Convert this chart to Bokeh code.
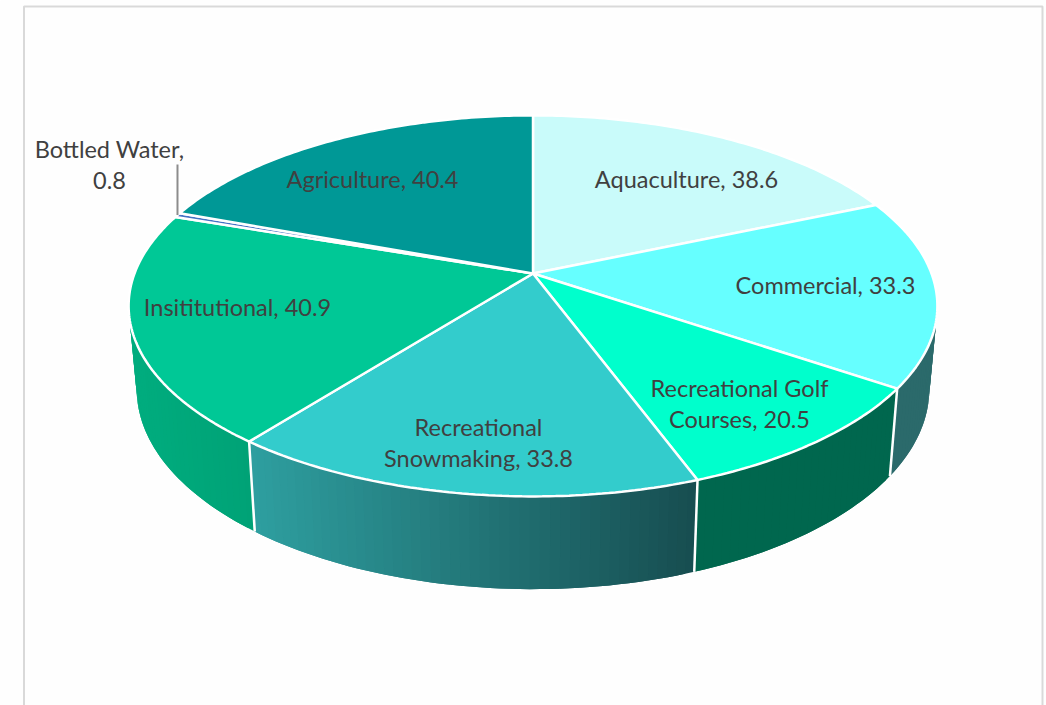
import math
from bokeh.plotting import figure
from bokeh.models import Range1d, ColumnDataSource
from bokeh.core.properties import value
from bokeh.embed import file_html
from bokeh.resources import INLINE

# --- data ---
categories = ["Aquaculture", "Commercial", "Recreational Golf Courses", "Recreational Snowmaking",
              "Insititutional", "Bottled Water", "Agriculture"]
values = [38.6, 33.3, 20.5, 33.8, 40.9, 0.8, 40.4]
labels = ["Aquaculture, 38.6", "Commercial, 33.3", "Recreational Golf\nCourses, 20.5",
          "Recreational\nSnowmaking, 33.8", "Insititutional, 40.9", "Bottled Water,\n0.8",
          "Agriculture, 40.4"]
top_colors = ["#C9FBFA", "#66FFFF", "#00FFCC", "#33CCCC", "#00C896", "#4472C4", "#009896"]
side_left = ["#7FA0A0", "#2B6A6B", "#00674E", "#2E9FA0", "#00AC7E", "#2A4A80", "#005F5F"]
side_right = ["#7FA0A0", "#2B6A6B", "#00674E", "#174D50", "#00A276", "#2A4A80", "#005F5F"]
label_x = [686, 825, 739, 478, 237, 109, 372]
label_y = [178, 284, 403, 442, 306, 164, 178]

# --- projection of the tilted disc ---
CX, CY = 532.5, 273.0
R, A, K = 398.5, 185.0, 0.17
SX, SY, DY = 0.98, 1.05, 81.6

def top_pt(t):
    d = 1 + K * math.cos(t)
    return CX + R * math.sin(t) / d, CY - A * math.cos(t) / d

def bot_pt(t):
    x, y = top_pt(t)
    return CX + SX * (x - CX), CY + DY + SY * (y - CY)

def mix(c1, c2, f):
    a = [int(c1[i:i + 2], 16) for i in (1, 3, 5)]
    b = [int(c2[i:i + 2], 16) for i in (1, 3, 5)]
    return "#%02x%02x%02x" % tuple(round(a[i] + (b[i] - a[i]) * f) for i in range(3))

total = sum(values)
edges = [0.0]
for v in values:
    edges.append(edges[-1] + v / total * 2 * math.pi)

p = figure(width=1046, height=705, x_range=Range1d(0, 1046), y_range=Range1d(705, 0),
           output_backend="svg", toolbar_location=None, min_border=0, x_axis_location=None,
           y_axis_location=None, background_fill_color="#FEFEFE", border_fill_color="#FEFEFE",
           outline_line_color=None)
p.grid.visible = False

# chart-area frame
p.line([23.5, 23.5, 1042, 1042], [705, 6, 6, 705], line_color="#D9D9D9", line_width=2)

# side walls as narrow strips, so they can carry the gradient
lo, hi = math.radians(88), math.radians(272)
xs, ys, cs = [], [], []
for i in range(len(values)):
    a0, a1 = max(edges[i], lo), min(edges[i + 1], hi)
    if a1 <= a0:
        continue
    n = max(2, int((a1 - a0) / math.radians(1.2)))
    ts = [a0 + (a1 - a0) * j / n for j in range(n + 1)]
    x_a, x_b = sorted((top_pt(a0)[0], top_pt(a1)[0]))
    for j in range(n):
        t0, t1, t2 = ts[j], ts[j + 1], ts[min(j + 2, n)]
        q = [top_pt(t0), top_pt(t1), top_pt(t2), bot_pt(t2), bot_pt(t1), bot_pt(t0)]
        xs.append([c[0] for c in q])
        ys.append([c[1] for c in q])
        f = ((q[0][0] + q[1][0]) / 2 - x_a) / max(x_b - x_a, 1)
        cs.append(mix(side_left[i], side_right[i], min(max(f, 0), 1)))
p.patches(xs="xs", ys="ys", fill_color="cs", line_color=None,
          source=ColumnDataSource(dict(xs=xs, ys=ys, cs=cs)))

# white seams on the front wall
for e in edges:
    if lo < e < hi:
        a, b = top_pt(e), bot_pt(e)
        p.line([a[0], b[0]], [a[1], b[1]], line_color="white", line_width=2.5)

# top face
wx, wy = [], []
for i in range(len(values)):
    n = max(2, int((edges[i + 1] - edges[i]) / math.radians(0.8)))
    pts = [top_pt(edges[i] + (edges[i + 1] - edges[i]) * j / n) for j in range(n + 1)]
    wx.append([CX] + [c[0] for c in pts])
    wy.append([CY] + [c[1] for c in pts])
p.patches(xs="wx", ys="wy", fill_color="c", line_color="white", line_width=2.5,
          source=ColumnDataSource(dict(wx=wx, wy=wy, c=top_colors)))

# leader line of the smallest slice
bi = categories.index("Bottled Water")
lead = top_pt((edges[bi] + edges[bi + 1]) / 2)
p.line([lead[0], lead[0]], [lead[1], 164], line_color="#8C8C8C", line_width=2)

p.text(x="x", y="y", text="t", source=ColumnDataSource(dict(x=label_x, y=label_y, t=labels)),
       text_font=value("Lato"), text_font_size="23.5px", text_color="#404040",
       text_align="center", text_baseline="middle", text_line_height=1.13)

open("out.html", "w").write(file_html(p, INLINE))
